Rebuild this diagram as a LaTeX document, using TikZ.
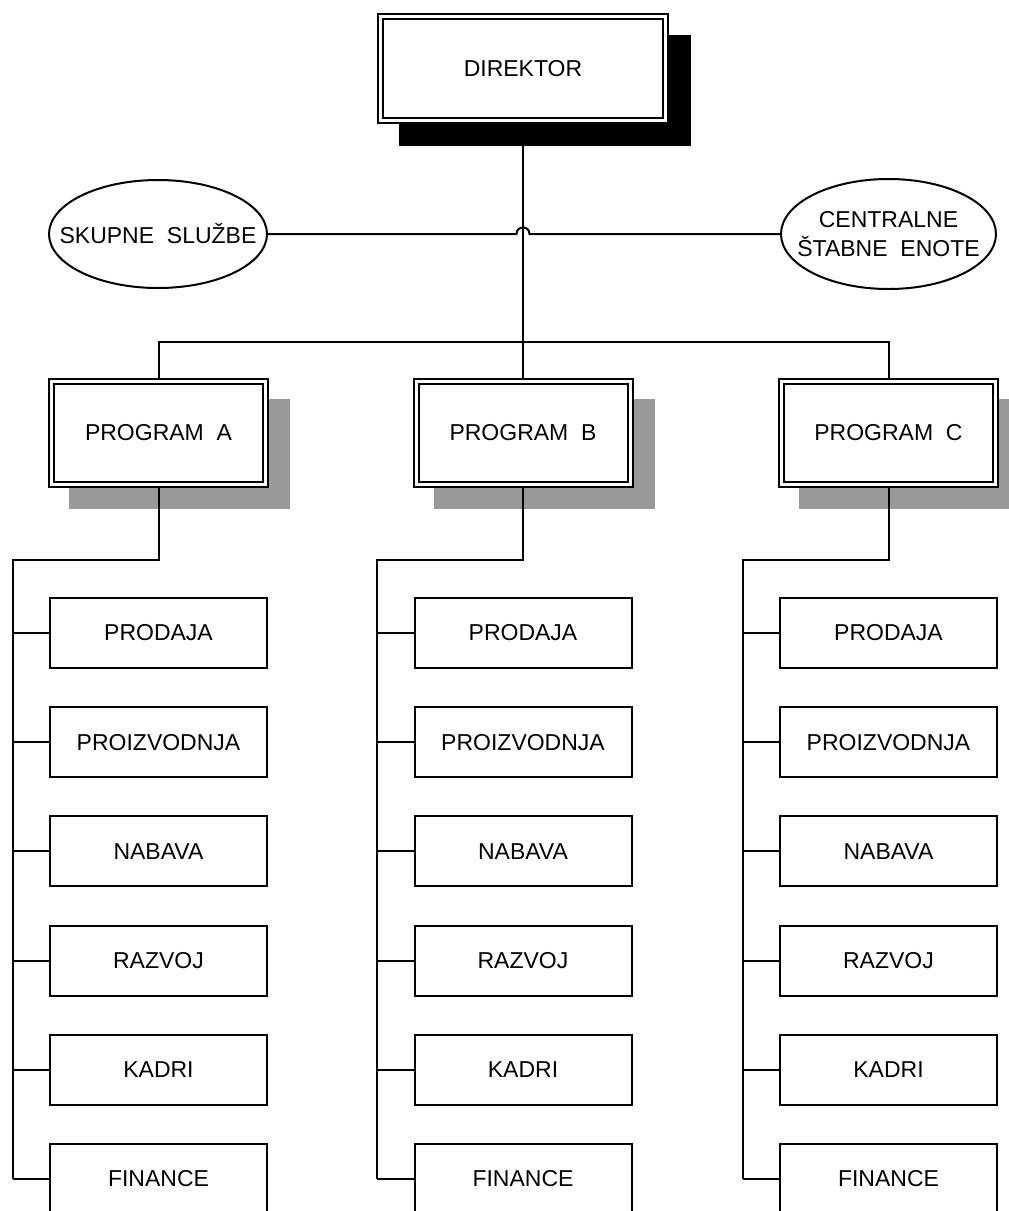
\documentclass[tikz,border=0pt]{standalone}
\usepackage{fontspec}
\setmainfont{Liberation Sans}
\usetikzlibrary{shapes.geometric,calc,backgrounds}

\definecolor{progshadow}{RGB}{153,153,153}

\tikzset{
  every node/.style={font=\fontsize{23}{29}\selectfont},
  conn/.style={draw, line width=2pt},
  headbox/.style={draw, fill=white, double, line width=2pt, double distance=3pt,
    inner sep=0pt},
  progbox/.style={headbox, minimum width=214pt, minimum height=103pt},
  subbox/.style={draw, fill=white, line width=2pt, inner sep=0pt,
    minimum width=217pt, minimum height=70pt},
  staff/.style={ellipse, draw, fill=white, line width=2pt, align=center,
    inner xsep=-30pt, inner ysep=0pt},
}

\begin{document}
\begin{tikzpicture}[x=1pt, y=-1pt]
\useasboundingbox (0,0) rectangle (1009,1211);

% head of the company
\node[headbox, minimum width=285pt, minimum height=104pt] (dir) at (523,68.5) {DIREKTOR};

% staff units beside the head
\node[staff, minimum width=218pt, minimum height=108pt] (sk) at (158,234) {SKUPNE\ \ SLUŽBE};
\node[staff, minimum width=215pt, minimum height=110pt] (ce) at (888.5,234) {CENTRALNE\\ŠTABNE\ \ ENOTE};

\coordinate (hopL) at (516.5,234);
\coordinate (hopR) at (529.5,234);
\coordinate (bus) at (523,342);

% program columns with their departments
\foreach \col/\cx/\lab in {a/158.5/A, b/523/B, c/888.5/C}{
  \node[progbox] (p\col) at (\cx,433) {PROGRAM\ \ \lab};
  \coordinate (r\col) at ({\cx-146},560);
  \foreach \i/\t in {1/PRODAJA, 2/PROIZVODNJA, 3/NABAVA, 4/RAZVOJ, 5/KADRI, 6/FINANCE}{
    \node[subbox] (\col\i) at (\cx,{633+(\i-1)*109.2}) {\t};
  }
}

\begin{scope}[on background layer]
  \fill[white] (0,0) rectangle (1009,1211);
  % drop shadows
  \fill[black] (399,35) rectangle (691,146);
  \foreach \cx in {158.5, 523, 888.5}{
    \fill[progshadow] ({\cx-89.5},399) rectangle ({\cx+131.5},509);
  }
  % connectors
  \draw[conn] (dir.south) -- (pb.north);
  \draw[conn] (pa.north) |- (bus) -| (pc.north);
  \draw[conn] (sk.east) -- (hopL) .. controls (516.5,225.3) and (529.5,225.3) .. (hopR) -- (ce.west);
  \foreach \col in {a,b,c}{
    \draw[conn] (p\col.south) |- (r\col) -- (r\col |- \col6.west);
    \foreach \i in {1,...,6}{
      \draw[conn] (r\col |- \col\i.west) -- (\col\i.west);
    }
  }
\end{scope}
\end{tikzpicture}
\end{document}
